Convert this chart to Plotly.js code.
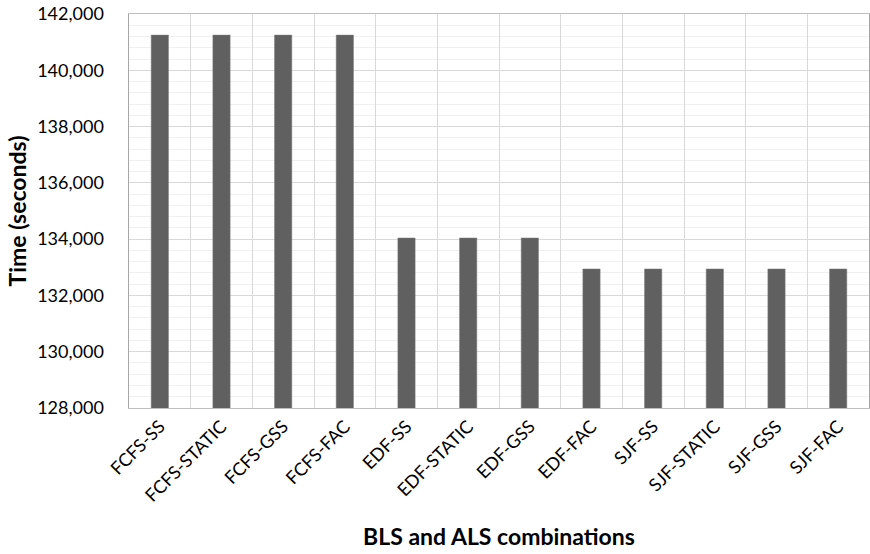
<!DOCTYPE html>
<html>
<head>
<meta charset="utf-8">
<script src="https://cdn.plot.ly/plotly-3.0.1.min.js"></script>
<style>html,body{margin:0;padding:0;background:#fff;}#chart{width:870px;height:554px;}</style>
</head>
<body>
<div id="chart"></div>
<script>
const categories = ["FCFS-SS","FCFS-STATIC","FCFS-GSS","FCFS-FAC","EDF-SS","EDF-STATIC","EDF-GSS","EDF-FAC","SJF-SS","SJF-STATIC","SJF-GSS","SJF-FAC"];
const timeSeconds = [141250,141250,141250,141250,134040,134040,134040,132940,132940,132940,132940,132940];
const yTicks = [128000,130000,132000,134000,136000,138000,140000,142000];
const yTickLabels = ["128,000","130,000","132,000","134,000","136,000","138,000","140,000","142,000"];

const font = "Lato, 'Open Sans', sans-serif";
Plotly.newPlot("chart", [{
  type: "bar",
  x: categories,
  y: timeSeconds,
  marker: {color: "#606060", line: {color: "#7a7a7a", width: 0.5}},
  hoverinfo: "x+y"
}], {
  width: 870, height: 554,
  margin: {l: 129, r: 1, t: 14, b: 146},
  paper_bgcolor: "#fff", plot_bgcolor: "#fff",
  bargap: 0.72,
  showlegend: false,
  font: {family: font, color: "#000"},
  xaxis: {
    type: "category",
    tickson: "boundaries",
    showgrid: true, gridcolor: "#d9d9d9", gridwidth: 1,
    ticks: "", tickangle: -45,
    tickfont: {size: 18, family: font, color: "#000"},
    showline: true, linecolor: "#bfbfbf", linewidth: 1, mirror: true,
    title: {text: "<b>BLS and ALS combinations</b>", font: {size: 23, family: font, color: "#000"}, standoff: 24}
  },
  yaxis: {
    range: [128000, 142000],
    tickvals: yTicks, ticktext: yTickLabels,
    showgrid: true, gridcolor: "#d9d9d9", gridwidth: 1,
    minor: {dtick: 400, showgrid: true, gridcolor: "#f0f0f0", gridwidth: 1, ticks: ""},
    ticks: "", ticklabelstandoff: 20,
    tickfont: {size: 18, family: font, color: "#000"},
    showline: true, linecolor: "#a6a6a6", linewidth: 1.5, mirror: true,
    zeroline: false,
    title: {text: "<b>Time (seconds)</b>", font: {size: 23, family: font, color: "#000"}, standoff: 4}
  }
}, {displayModeBar: false, staticPlot: true});
</script>
</body>
</html>
